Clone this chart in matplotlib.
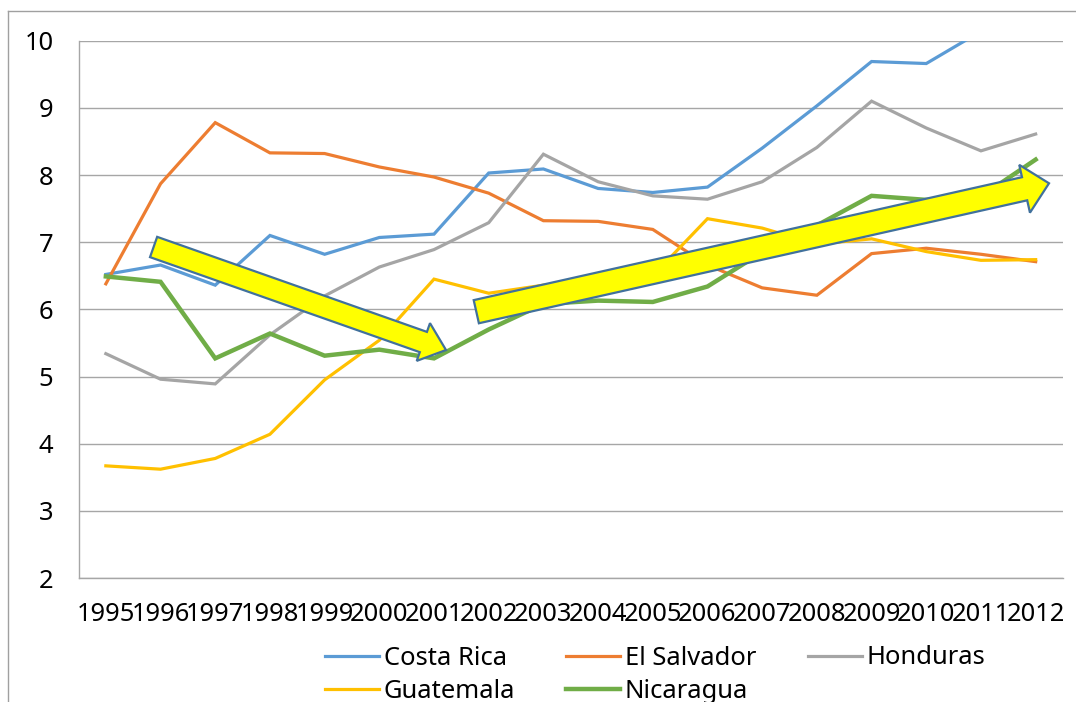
import matplotlib
matplotlib.use("Agg")
import matplotlib.pyplot as plt
from matplotlib.patches import FancyArrow
from matplotlib.lines import Line2D
from matplotlib.transforms import Affine2D

years = [str(y) for y in range(1995, 2013)]
costa_rica = [6.52, 6.66, 6.36, 7.10, 6.82, 7.07, 7.12, 8.03, 8.09, 7.80, 7.74, 7.82, 8.40, 9.03, 9.69, 9.66, 10.14, 10.5]
el_salvador = [6.38, 7.87, 8.78, 8.33, 8.32, 8.12, 7.97, 7.73, 7.32, 7.31, 7.19, 6.66, 6.32, 6.21, 6.83, 6.91, 6.82, 6.71]
honduras = [5.34, 4.96, 4.89, 5.62, 6.20, 6.63, 6.89, 7.29, 8.31, 7.90, 7.69, 7.64, 7.90, 8.41, 9.10, 8.70, 8.36, 8.61]
guatemala = [3.67, 3.62, 3.78, 4.14, 4.95, 5.54, 6.45, 6.24, 6.36, 6.43, 6.50, 7.35, 7.21, 6.97, 7.05, 6.86, 6.73, 6.74]
nicaragua = [6.49, 6.41, 5.27, 5.64, 5.31, 5.40, 5.27, 5.70, 6.08, 6.13, 6.11, 6.34, 6.85, 7.25, 7.69, 7.63, 7.68, 8.23]

series = [
    ("Costa Rica", costa_rica, "#5B9BD5", 2.3),
    ("El Salvador", el_salvador, "#ED7D31", 2.3),
    ("Honduras", honduras, "#A5A5A5", 2.3),
    ("Guatemala", guatemala, "#FFC000", 2.3),
    ("Nicaragua", nicaragua, "#70AD47", 3.2),
]

W, H = 1076, 702
plt.rcParams['font.family'] = ['Noto Sans', 'DejaVu Sans']
fig = plt.figure(figsize=(W / 100, H / 100), dpi=100)
ax = fig.add_axes([78.5 / W, 1 - 578 / H, (1063 - 78.5) / W, (578 - 40.7) / H])

x = list(range(len(years)))
handles = {}
for name, vals, col, lw in series:
    ln, = ax.plot(x, vals, color=col, lw=lw, solid_joinstyle='miter', label=name, zorder=3)
    handles[name] = ln

ax.set_xlim(-0.5, len(years) - 0.5)
ax.set_ylim(2, 10)
ax.set_yticks(range(2, 11))
ax.set_xticks(x)
ax.set_xticklabels(years)
ax.grid(axis='y', color='#A6A6A6', lw=1.0, zorder=0)
ax.set_axisbelow(True)
for s in ['top', 'right']:
    ax.spines[s].set_visible(False)
for s in ['left', 'bottom']:
    ax.spines[s].set_color('#A6A6A6')
    ax.spines[s].set_linewidth(1.0)
ax.tick_params(axis='both', length=0, labelsize=18.4, colors='black')
ax.tick_params(axis='y', pad=18)
ax.tick_params(axis='x', pad=17.5)

# pixel transform (top-left origin)
T = Affine2D().scale(1 / W, -1 / H).translate(0, 1) + fig.transFigure

# outer border
fig.add_artist(Line2D([8, 8], [11, H + 5], transform=T, color='#A0A0A0', lw=1.0))
fig.add_artist(Line2D([8, W + 5], [11, 11], transform=T, color='#A0A0A0', lw=1.0))

# arrows
def arrow(x0, y0, x1, y1, w, hw, hl):
    a = FancyArrow(x0, y0, x1 - x0, y1 - y0, width=w, head_width=hw, head_length=hl,
                   length_includes_head=True, transform=T, facecolor='#FFFF00',
                   edgecolor='#41719C', lw=1.6, zorder=10)
    fig.add_artist(a)

arrow(153.6, 247, 446, 350, 21.5, 40, 24)
arrow(476.3, 311.7, 1049, 183.3, 23.7, 49, 25)

# legend (three columns)
fs = 18.4
common = dict(loc='center left', frameon=False, fontsize=fs, borderpad=0, borderaxespad=0,
              handlelength=2.1, handletextpad=0.2, labelspacing=0.3)
fig.legend([handles["Costa Rica"], handles["Guatemala"]], ["Costa Rica", "Guatemala"],
           bbox_to_anchor=(325 / W, 1 - 675 / H), **common)
fig.legend([handles["El Salvador"], handles["Nicaragua"]], ["El Salvador", "Nicaragua"],
           bbox_to_anchor=(566 / W, 1 - 675 / H), **common)
fig.legend([handles["Honduras"]], ["Honduras"],
           bbox_to_anchor=(808 / W, 1 - 658 / H), **common)

fig.savefig("out.png", dpi=100)
